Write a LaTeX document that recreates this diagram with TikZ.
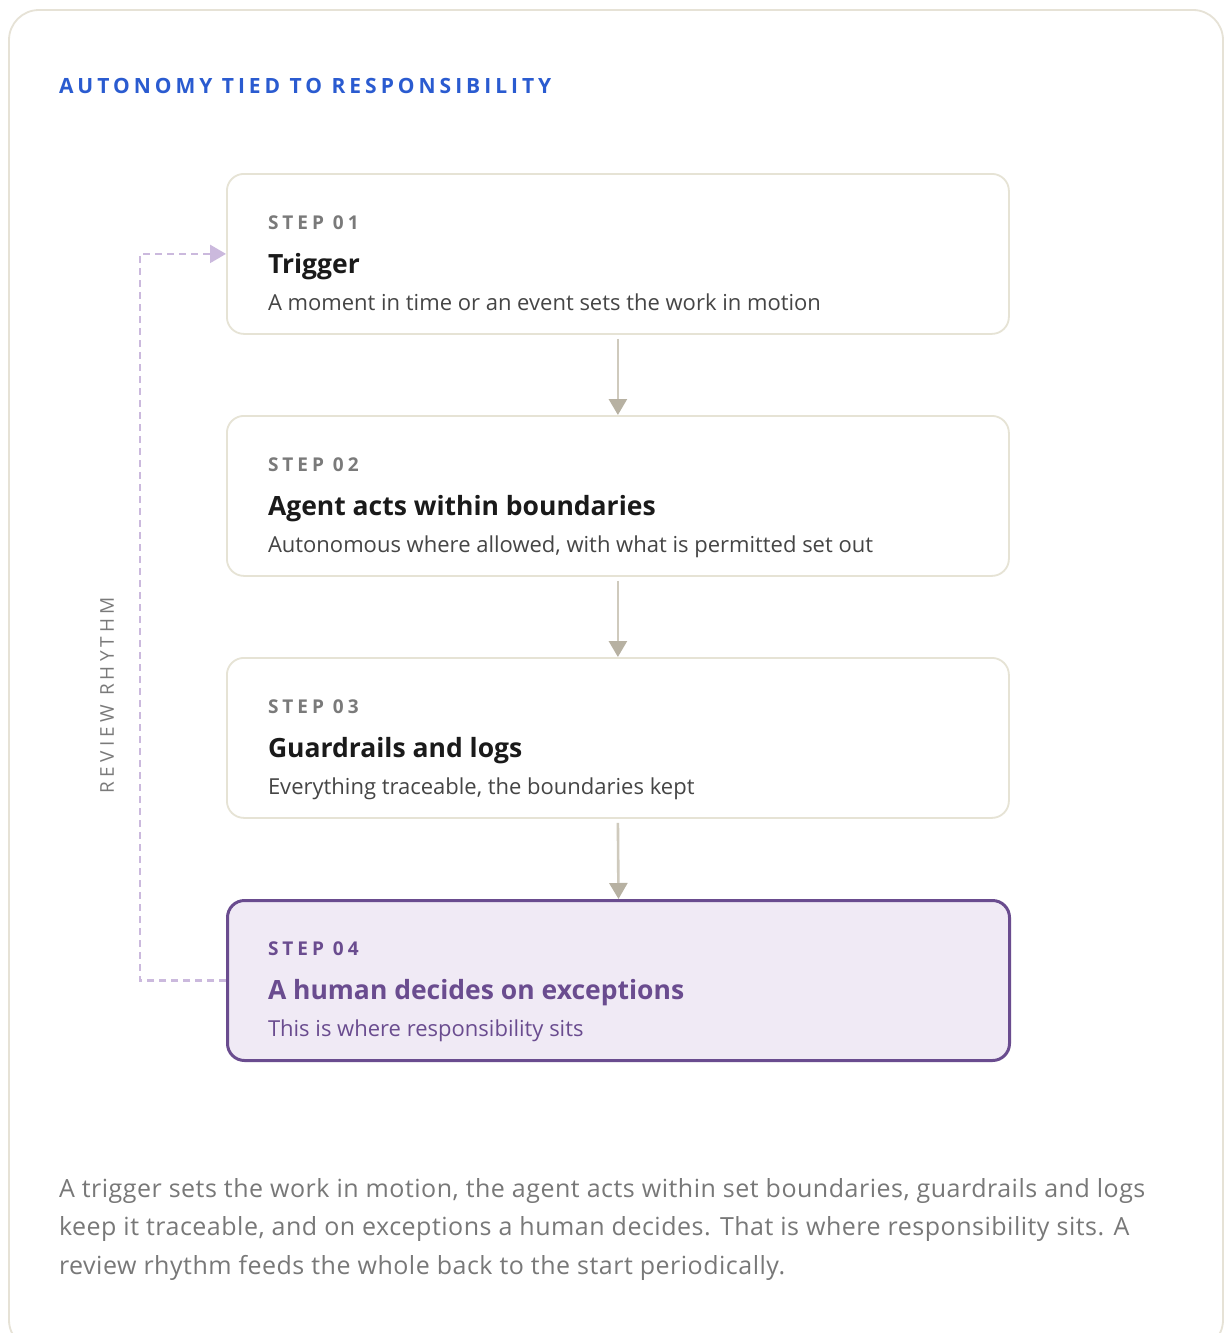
\documentclass[tikz,border=0pt]{standalone}
\usepackage{fontspec}
\setmainfont{Open Sans}
\newfontfamily\headfont[LetterSpace=19]{Open Sans}
\newfontfamily\trackedfont[LetterSpace=21]{Open Sans}
\newfontfamily\sidefont[LetterSpace=22]{Open Sans}
\newfontfamily\bodyfont[LetterSpace=2]{Open Sans}
\usetikzlibrary{arrows.meta}
\definecolor{framec}{HTML}{E6E2D6}
\definecolor{boxc}{HTML}{E6E3D5}
\definecolor{arrowc}{HTML}{CFCABD}
\definecolor{headc}{HTML}{B7B1A2}
\definecolor{loopc}{HTML}{CBB9DD}
\definecolor{labc}{HTML}{7A7A7A}
\definecolor{titlec}{HTML}{1A1A1A}
\definecolor{descc}{HTML}{454545}
\definecolor{hfill}{HTML}{F0EAF5}
\definecolor{hdraw}{HTML}{6A4C8F}
\definecolor{headingc}{HTML}{2A5BD0}
\definecolor{bodyc}{HTML}{787878}
\tikzset{
  stepbox/.style={draw=boxc, line width=1.8pt, rounded corners=17pt, fill=white,
    minimum width=782pt, minimum height=160pt, anchor=north west, inner sep=0pt},
  hibox/.style={stepbox, draw=hdraw, fill=hfill, line width=3pt},
  txt/.style={anchor=base west, inner sep=0pt, outer sep=0pt},
  lab/.style={txt, text=labc, font=\trackedfont\bfseries\fontsize{19}{22}\selectfont},
  ttl/.style={txt, text=titlec, font=\bfseries\fontsize{26.5}{32}\selectfont},
  dsc/.style={txt, text=descc, font=\fontsize{22}{26}\selectfont},
  flow/.style={draw=arrowc, line width=2.6pt, -{Triangle[length=16pt,width=18pt,color=headc]}},
  loopline/.style={draw=loopc, line width=2.4pt, dash pattern=on 7pt off 5pt,
    -{Triangle[length=16pt,width=18pt,color=loopc]}},
  body/.style={txt, text=bodyc, font=\bodyfont\fontsize{25}{30}\selectfont},
}
\begin{document}
\begin{tikzpicture}[x=1pt,y=-1pt]
\useasboundingbox (0,0) rectangle (1224,1333);
\fill[white] (0,0) rectangle (1224,1333);
\begin{scope}
\clip (0,0) rectangle (1224,1333);
\draw[framec, line width=1.8pt, rounded corners=30pt] (9,10) rectangle (1223,1350);
\end{scope}
\node[txt, text=headingc, font=\headfont\bfseries\fontsize{21}{25}\selectfont] (head) at (59,93) {AUTONOMY TIED TO RESPONSIBILITY};

\node[stepbox] (s1) at (226,173) {};
\node[stepbox] (s2) at (226,415) {};
\node[stepbox] (s3) at (226,657) {};
\node[hibox] (s4) at (226,899) {};

\node[lab] (l1) at (268,229) {STEP 01};
\node[ttl] (t1) at (268,273) {Trigger};
\node[dsc] (d1) at (268,310) {A moment in time or an event sets the work in motion};

\node[lab] (l2) at (268,471) {STEP 02};
\node[ttl] (t2) at (268,515) {Agent acts within boundaries};
\node[dsc] (d2) at (268,552) {Autonomous where allowed, with what is permitted set out};

\node[lab] (l3) at (268,713) {STEP 03};
\node[ttl] (t3) at (268,757) {Guardrails and logs};
\node[dsc] (d3) at (268,794) {Everything traceable, the boundaries kept};

\node[lab, text=hdraw] (l4) at (268,955) {STEP 04};
\node[ttl, text=hdraw] (t4) at (268,999) {A human decides on exceptions};
\node[dsc, text=hdraw] (d4) at (268,1036) {This is where responsibility sits};

\draw[flow] ([yshift=-4pt]s1.south) -- (s2.north);
\draw[flow] ([yshift=-4pt]s2.south) -- (s3.north);
\draw[flow] ([yshift=-4pt]s3.south) -- (s4.north);

\draw[loopline] (s4.west) -- ++(-86,0) |- (s1.west);
\node[rotate=90, text=labc, font=\sidefont\fontsize{19}{22}\selectfont, inner sep=0pt] (rr) at (107,695) {REVIEW RHYTHM};

\node[body] (b1) at (59,1197) {A trigger sets the work in motion, the agent acts within set boundaries, guardrails and logs};
\node[body] (b2) at (59,1235) {keep it traceable, and on exceptions a human decides. That is where responsibility sits. A};
\node[body] (b3) at (59,1274) {review rhythm feeds the whole back to the start periodically.};
\end{tikzpicture}
\end{document}
